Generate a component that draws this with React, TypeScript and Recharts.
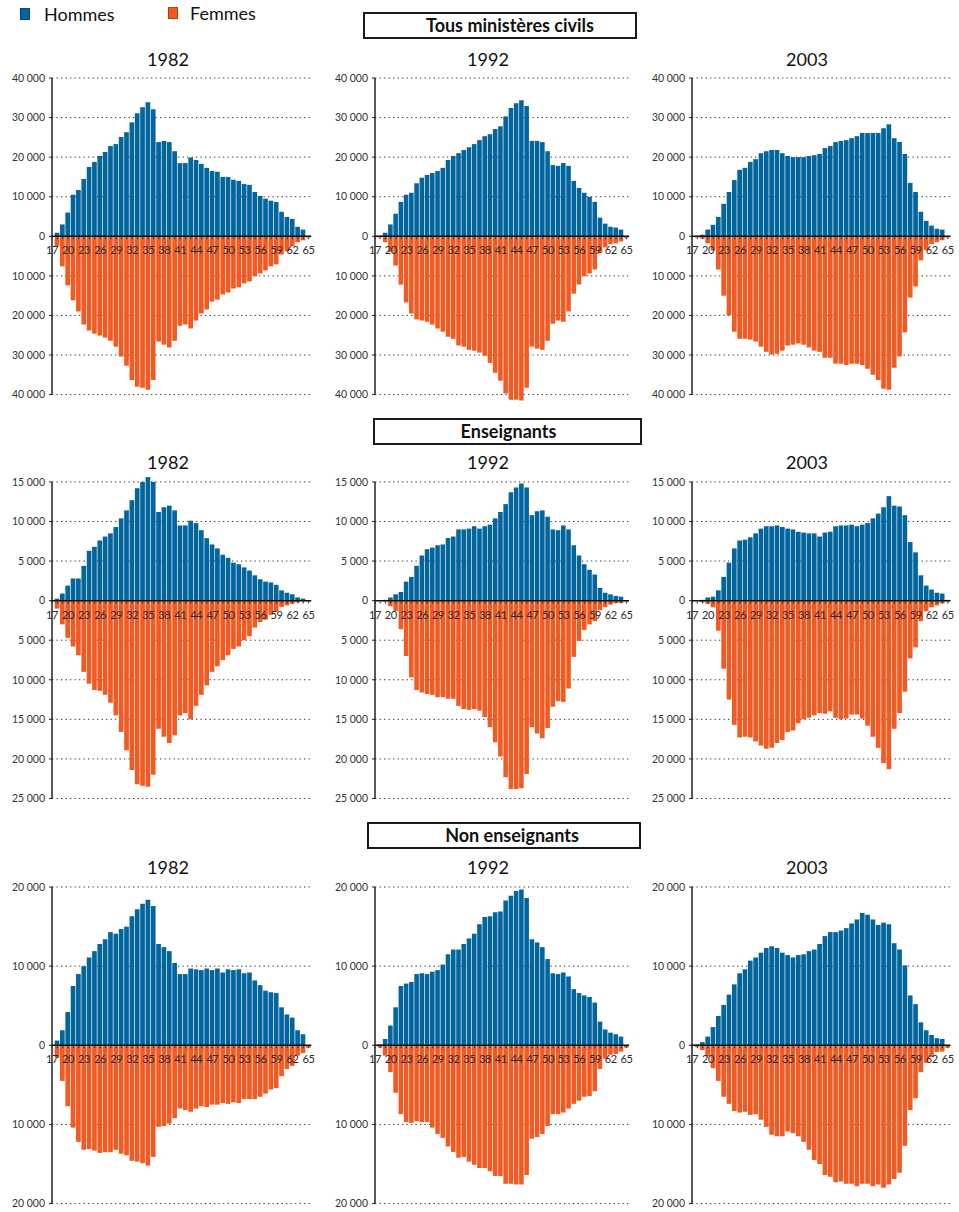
import React from 'react';
import { BarChart, Bar, XAxis, YAxis, CartesianGrid, ReferenceLine, ReferenceDot } from 'recharts';

const BLUE = '#03659e';
const ORANGE = '#f25a23';
const FONT = 'Lato, "Open Sans", sans-serif';

const ages = [17, 18, 19, 20, 21, 22, 23, 24, 25, 26, 27, 28, 29, 30, 31, 32, 33, 34, 35, 36, 37, 38, 39, 40, 41, 42, 43, 44, 45, 46, 47, 48, 49, 50, 51, 52, 53, 54, 55, 56, 57, 58, 59, 60, 61, 62, 63, 64, 65];
const ageTickLabels = [17, 20, 23, 26, 29, 32, 35, 38, 41, 44, 47, 50, 53, 56, 59, 62, 65];

const ticksTous = [-40000, -30000, -20000, -10000, 0, 10000, 20000, 30000, 40000];
const ticksEns = [-25000, -20000, -15000, -10000, -5000, 0, 5000, 10000, 15000];
const ticksNon = [-20000, -10000, 0, 10000, 20000];

// Tous ministères civils
const tousH1982 = [100, 900, 3000, 6000, 10500, 11700, 14500, 17500, 18800, 20300, 21300, 22800, 23300, 25100, 26300, 28800, 31100, 32600, 33900, 32100, 23800, 24100, 23800, 21500, 18500, 18500, 19900, 19300, 18300, 17300, 16500, 16300, 15000, 15000, 14300, 14000, 13200, 13000, 11200, 10200, 9500, 9000, 8700, 6200, 4900, 4400, 2400, 1700, 100];
const tousF1982 = [200, 2500, 7600, 12400, 16200, 19000, 22300, 23800, 24600, 25100, 25600, 26400, 27900, 30400, 32700, 36300, 38000, 38300, 38800, 36300, 26600, 27400, 28100, 26400, 22600, 22300, 23300, 21300, 19500, 18500, 16500, 16000, 14700, 14200, 13200, 12900, 11900, 11400, 10100, 9400, 8600, 7600, 7100, 4600, 3800, 2500, 1500, 1000, 300];
const tousH1992 = [0, 100, 900, 3000, 5700, 8700, 10500, 11000, 13400, 14800, 15500, 16000, 16500, 17300, 19300, 20300, 21000, 21800, 22500, 23300, 24300, 25300, 25800, 27100, 27800, 30300, 32400, 33600, 34400, 32900, 24100, 24100, 23800, 21500, 18000, 17800, 18500, 17800, 14000, 12200, 11000, 10000, 8700, 4700, 3200, 2400, 2200, 1700, 0];
const tousF1992 = [0, 300, 1500, 4000, 7400, 12200, 16700, 19500, 21000, 21300, 21600, 22300, 23300, 24100, 25400, 25900, 27600, 27900, 28700, 28900, 29400, 30200, 32000, 34500, 36500, 39700, 41300, 41300, 41500, 38300, 27900, 28400, 28700, 26400, 22100, 21300, 21600, 19000, 14500, 12200, 10100, 9400, 8400, 4300, 2800, 2000, 1800, 1300, 400];
const tousH2003 = [0, 100, 400, 1700, 2900, 4900, 8200, 11200, 14200, 16800, 17300, 18800, 19500, 21000, 21500, 21800, 21800, 21000, 20300, 20000, 20000, 20000, 20300, 20500, 20800, 22300, 22800, 23800, 24100, 24300, 24800, 25300, 26100, 26100, 26100, 26100, 27300, 28300, 24800, 23800, 20800, 13500, 11200, 6200, 3900, 2700, 1900, 1700, 0];
const tousF2003 = [100, 300, 600, 1800, 3600, 8400, 15000, 20000, 24100, 25900, 25900, 26100, 26600, 27900, 29200, 29900, 29700, 28900, 27600, 27400, 27100, 27400, 28100, 28900, 29200, 30700, 30700, 32200, 32200, 32500, 32200, 32200, 32500, 33500, 35000, 36300, 38500, 38800, 33200, 30400, 24300, 15500, 12700, 6100, 3500, 2000, 1500, 1000, 300];

// Enseignants
const ensH1982 = [0, 250, 900, 1900, 2800, 2800, 4400, 6300, 6800, 7600, 8100, 8500, 9300, 10400, 11400, 12700, 14200, 15000, 15600, 15000, 11200, 11800, 12000, 11400, 9500, 9500, 10100, 9800, 8900, 7900, 7100, 6600, 5800, 5400, 4800, 4600, 4200, 3800, 3200, 2700, 2400, 2300, 2000, 1300, 1000, 800, 400, 250, 0];
const ensF1982 = [100, 1000, 3000, 4700, 5800, 6900, 9000, 10500, 11300, 11400, 11900, 12900, 14500, 16600, 18900, 21400, 23200, 23400, 23500, 22000, 16200, 17200, 18000, 17000, 14500, 14200, 15000, 13300, 11900, 10700, 9000, 8300, 7500, 6900, 6100, 5800, 5000, 4500, 3400, 2700, 2400, 1800, 1400, 800, 600, 400, 200, 100, 100];
const ensH1992 = [0, 0, 100, 400, 800, 1100, 2400, 3000, 4400, 5700, 6500, 6700, 7000, 7100, 7900, 8100, 9000, 9000, 9100, 9400, 9100, 9400, 9600, 10400, 11200, 12200, 13700, 14300, 14800, 14300, 10800, 11300, 11400, 10600, 9000, 8900, 9500, 9000, 7000, 5700, 4600, 3900, 3300, 1600, 1000, 800, 600, 500, 0];
const ensF1992 = [0, 0, 100, 700, 1300, 3600, 7000, 9700, 11300, 11600, 11800, 11900, 12200, 12200, 12400, 12400, 13300, 13700, 13800, 13700, 13900, 14700, 16000, 17900, 19700, 22300, 23800, 23800, 23700, 21900, 16000, 16800, 17400, 16100, 13400, 12700, 12800, 11100, 7100, 5100, 3700, 3000, 2600, 1200, 800, 500, 300, 300, 100];
const ensH2003 = [0, 0, 100, 400, 500, 1300, 3000, 4800, 6600, 7600, 7700, 8000, 8500, 9100, 9400, 9400, 9500, 9300, 9100, 9000, 8700, 8600, 8500, 8500, 8100, 8600, 8700, 9400, 9500, 9500, 9600, 9400, 9600, 9800, 10400, 11000, 11800, 13200, 12000, 11900, 10800, 7400, 6100, 3200, 1900, 1400, 1000, 900, 100];
const ensF2003 = [0, 0, 200, 400, 850, 3800, 8600, 12500, 15700, 17300, 17200, 17300, 17800, 18300, 18700, 18600, 18000, 17600, 16600, 16400, 15500, 15000, 14800, 14500, 14200, 14300, 14000, 14800, 15000, 14900, 14400, 14400, 14900, 15800, 17200, 18600, 20500, 21300, 16200, 14200, 11500, 7300, 5900, 2600, 1350, 850, 600, 350, 100];

// Non enseignants
const nonH1982 = [0, 600, 1900, 4200, 7500, 9000, 10000, 11100, 11900, 12800, 13400, 14300, 14100, 14700, 15000, 16300, 17200, 17900, 18400, 17600, 12800, 12400, 11900, 10400, 9000, 9000, 9700, 9600, 9500, 9700, 9500, 9700, 9200, 9600, 9500, 9600, 9100, 9200, 8200, 7600, 6900, 6700, 6600, 4800, 3900, 3500, 1900, 1400, 0];
const nonF1982 = [100, 1600, 4500, 7700, 10400, 12200, 13200, 13100, 13300, 13600, 13500, 13500, 13200, 13700, 13900, 14600, 14700, 14900, 15200, 14100, 10300, 10200, 9900, 9200, 8000, 8200, 8400, 8000, 7700, 7800, 7500, 7500, 7300, 7400, 7200, 7300, 6800, 6800, 6800, 6500, 6100, 5600, 5400, 3900, 3000, 2600, 1300, 1000, 300];
const nonH1992 = [0, 100, 800, 2500, 4800, 7500, 7800, 8000, 9000, 9100, 9000, 9300, 9500, 10200, 11500, 12100, 12100, 12800, 13500, 14100, 15300, 16200, 16300, 16800, 16900, 18300, 18900, 19500, 19700, 18600, 13400, 13000, 12400, 10900, 9100, 9000, 9200, 8700, 7100, 6600, 6300, 6100, 5400, 3000, 2000, 1600, 1400, 1100, 0];
const nonF1992 = [0, 300, 1300, 3400, 6000, 8700, 9700, 9800, 9600, 9700, 9700, 10400, 11200, 11700, 12800, 13500, 14200, 14100, 14700, 15100, 15500, 15500, 15900, 16500, 16500, 17500, 17500, 17600, 17600, 16400, 11800, 11600, 11200, 10200, 8700, 8700, 8500, 8000, 7400, 7000, 6500, 6400, 5800, 3000, 1700, 1200, 1100, 800, 300];
const nonH2003 = [50, 100, 400, 1100, 2300, 3700, 5100, 6400, 7700, 9100, 9600, 10700, 11100, 11700, 12300, 12500, 12300, 11700, 11400, 11100, 11400, 11500, 11900, 12100, 12800, 13800, 14300, 14300, 14500, 14800, 15400, 15900, 16700, 16500, 15900, 15200, 15500, 15300, 12900, 12100, 10100, 6300, 5200, 2900, 1900, 1300, 900, 800, 0];
const nonF2003 = [50, 200, 600, 1400, 2900, 4500, 6500, 7400, 8300, 8500, 8400, 8800, 8700, 9400, 10300, 11300, 11500, 11500, 10900, 11100, 11500, 12200, 13200, 14500, 15000, 16400, 16600, 17300, 17200, 17500, 17500, 17800, 17500, 17500, 17800, 17600, 18000, 17600, 16900, 16100, 12700, 8200, 6700, 3400, 2200, 1500, 850, 800, 300];

const YW = 50;
const MT = 6;
const MB = 6;
const MR = 4;
const TICK_SPAN_PX = 316.6;

const fmt = (v: number) => String(Math.abs(v)).replace(/\B(?=(\d{3})+(?!\d))/g, ' ');

type PanelProps = {
  hommes: number[];
  femmes: number[];
  domain: [number, number];
  ticks: number[];
  axisX: number;
  topY: number;
  bw: number;
};

function AgeMark(props: any) {
  const { cx, cy, label } = props;
  if (cx == null || cy == null) return null;
  return (
    <g>
      <rect x={cx - 0.6} y={cy + 1.2} width={1.2} height={1.6} fill="#333" />
      {label ? (
        <text x={cx} y={cy + 18} textAnchor="middle" fontSize={11} fill="#2a2a2a" fontFamily={FONT} letterSpacing={-0.4}>
          {label}
        </text>
      ) : null}
    </g>
  );
}

function Panel({ hommes, femmes, domain, ticks, axisX, topY, bw }: PanelProps) {
  const data = ages.map((age, i) => ({ age, hommes: hommes[i], femmes: -femmes[i] }));
  const tMin = ticks[0];
  const tMax = ticks[ticks.length - 1];
  const pxPerUnit = TICK_SPAN_PX / (tMax - tMin);
  const plotH = pxPerUnit * (domain[1] - domain[0]);
  const plotTop = topY - pxPerUnit * (domain[1] - tMax);
  const width = YW + 48.5 * bw + MR;
  const height = MT + plotH + MB;
  return (
    <div style={{ position: 'absolute', left: axisX - YW, top: plotTop - MT, width, height }}>
      <BarChart
        width={width}
        height={height}
        data={data}
        stackOffset="sign"
        margin={{ top: MT, right: MR, bottom: MB, left: 0 }}
      >
        <CartesianGrid vertical={false} syncWithTicks stroke="#333" strokeDasharray="1.3 3.2" strokeWidth={1} />
        <XAxis dataKey="age" type="category" hide padding={{ left: -bw / 2, right: 0 }} />
        <YAxis
          width={YW}
          type="number"
          domain={domain}
          ticks={ticks}
          interval={0}
          tickFormatter={fmt}
          tick={{ fontSize: 10.5, fill: '#333', fontFamily: FONT }}
          axisLine={false}
          tickLine={{ stroke: '#222' }}
          tickSize={3}
          tickMargin={4}
        />
        <Bar dataKey="hommes" stackId="s" fill={BLUE} barSize={bw - 0.65} isAnimationActive={false} />
        <Bar dataKey="femmes" stackId="s" fill={ORANGE} barSize={bw - 0.65} isAnimationActive={false} />
        <ReferenceLine
          segment={[{ x: 17, y: tMin }, { x: 17, y: tMax }]}
          stroke="#222"
          strokeWidth={1.5}
          ifOverflow="visible"
        />
        <ReferenceLine y={0} stroke="#111" strokeWidth={1.5} ifOverflow="visible" />
        {ages.map((age) => (
          <ReferenceDot
            key={age}
            x={age}
            y={0}
            r={1}
            ifOverflow="visible"
            shape={(p: any) => <AgeMark {...p} label={ageTickLabels.includes(age) ? String(age) : ''} />}
          />
        ))}
      </BarChart>
    </div>
  );
}

const colAxisX = [51.7, 374.5, 691.7];
const colBw = [5.346, 5.24, 5.33];
const colTitleX = [168, 488, 807];
const rowTopY = [77.7, 481.7, 886.7];
const rowTitleY = [59, 462, 867];
const years = ['1982', '1992', '2003'];

const sections = [
  { title: 'Tous ministères civils', box: { left: 363, top: 12, width: 274 }, pad: 20, domain: [-42000, 40000] as [number, number], ticks: ticksTous, series: [[tousH1982, tousF1982], [tousH1992, tousF1992], [tousH2003, tousF2003]] },
  { title: 'Enseignants', box: { left: 373, top: 418, width: 269 }, pad: 2, domain: [-25000, 16000] as [number, number], ticks: ticksEns, series: [[ensH1982, ensF1982], [ensH1992, ensF1992], [ensH2003, ensF2003]] },
  { title: 'Non enseignants', box: { left: 367, top: 822, width: 274 }, pad: 16, domain: [-20000, 20000] as [number, number], ticks: ticksNon, series: [[nonH1982, nonF1982], [nonH1992, nonF1992], [nonH2003, nonF2003]] },
];

export default function App() {
  return (
    <div style={{ position: 'absolute', left: 0, top: 0, width: 959, height: 1212, background: '#fff', fontFamily: FONT, color: '#111', overflow: 'hidden' }}>
      {/* Legend */}
      <div style={{ position: 'absolute', left: 20, top: 8, width: 10, height: 12, background: BLUE, boxShadow: 'inset 0 0 0 0.6px #013a5c' }} />
      <div style={{ position: 'absolute', left: 44, top: 3, fontSize: 18, lineHeight: '22px' }}>Hommes</div>
      <div style={{ position: 'absolute', left: 168, top: 7, width: 10, height: 12, background: ORANGE, boxShadow: 'inset 0 0 0 0.6px #8a2e0c' }} />
      <div style={{ position: 'absolute', left: 190, top: 2, fontSize: 18, lineHeight: '22px' }}>Femmes</div>

      {sections.map((s, r) => (
        <React.Fragment key={s.title}>
          <div
            style={{
              position: 'absolute',
              left: s.box.left,
              top: s.box.top,
              width: s.box.width,
              height: 27,
              boxSizing: 'border-box',
              border: '2px solid #1a1a1a',
              fontWeight: 700,
              fontSize: 18,
              lineHeight: '23px',
              textAlign: 'center',
              paddingLeft: s.pad,
            }}
          >
            {s.title}
          </div>
          {years.map((y, c) => (
            <div
              key={y}
              style={{ position: 'absolute', left: colTitleX[c] - 50, top: rowTitleY[r] - 11, width: 100, textAlign: 'center', fontSize: 18, lineHeight: '22px' }}
            >
              {y}
            </div>
          ))}
          {s.series.map(([h, f], c) => (
            <Panel
              key={c}
              hommes={h}
              femmes={f}
              domain={s.domain}
              ticks={s.ticks}
              axisX={colAxisX[c]}
              topY={rowTopY[r]}
              bw={colBw[c]}
            />
          ))}
        </React.Fragment>
      ))}
    </div>
  );
}
